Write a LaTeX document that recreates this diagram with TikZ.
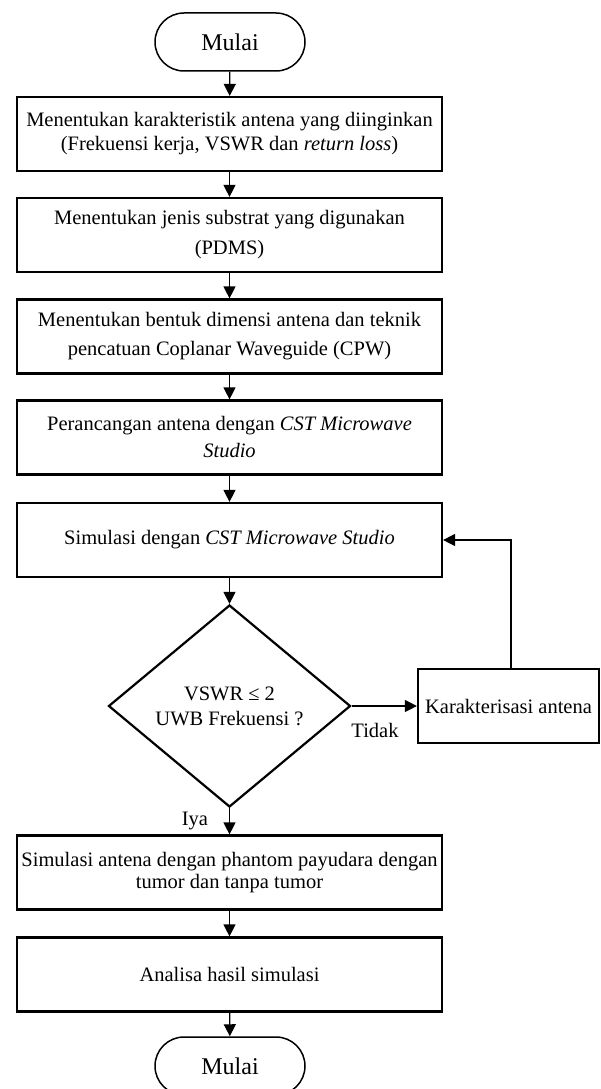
\documentclass[tikz,border=0pt]{standalone}
\usepackage{fontspec}
\setmainfont{Liberation Serif}
\usetikzlibrary{shapes.geometric,arrows.meta}
\begin{document}
\begin{tikzpicture}[x=1pt,y=-1pt,
  every node/.style={font=\fontsize{20.5}{24}\selectfont},
  terminal/.style={draw, line width=1.5pt, rounded corners=29pt, minimum width=150pt, minimum height=58pt, inner sep=0pt, font=\fontsize{24}{26}\selectfont},
  proc/.style={draw, line width=2.2pt, minimum width=425pt, minimum height=74pt, align=center, inner sep=0pt},
  decision/.style={draw, diamond, line width=2.2pt, minimum width=242pt, minimum height=202pt, inner sep=0pt, align=center, font=\fontsize{20.5}{25}\selectfont},
  arr/.style={line width=1.2pt, -{Triangle[length=12pt,width=12pt]}},
  lbl/.style={inner sep=0pt}]
\useasboundingbox (0,0) rectangle (601,1089);
\node[terminal] (start) at (230,42) {Mulai};
\node[proc] (b1) at (229.5,134) {Menentukan karakteristik antena yang diinginkan\\(Frekuensi kerja, VSWR dan \textit{return loss})};
\node[proc] (b2) at (229.5,235) {Menentukan jenis substrat yang digunakan\\[6pt](PDMS)};
\node[proc] (b3) at (229.5,336.5) {Menentukan bentuk dimensi antena dan teknik\\[5pt]pencatuan Coplanar Waveguide (CPW)};
\node[proc] (b4) at (229.5,437.5) {Perancangan antena dengan \textit{CST Microwave}\\[3pt]\textit{Studio}};
\node[proc] (sim) at (229.5,540) {Simulasi dengan \textit{CST Microwave Studio}};
\node[decision] (dec) at (229.5,706) {VSWR ≤ 2\\UWB Frekuensi ?};
\node[draw, line width=2.2pt, minimum width=181pt, minimum height=74pt, inner sep=0pt] (kar) at (508.5,706) {Karakterisasi antena};
\node[proc] (b6) at (229.5,872.5) {Simulasi antena dengan phantom payudara dengan\\[-2pt]tumor dan tanpa tumor};
\node[proc] (b7) at (229.5,974.5) {Analisa hasil simulasi};
\node[terminal] (stop) at (230,1066) {Mulai};
\coordinate (fb) at (511,0);
\draw[arr] (start) -- (b1);
\draw[arr] (b1) -- (b2);
\draw[arr] (b2) -- (b3);
\draw[arr] (b3) -- (b4);
\draw[arr] (b4) -- (sim);
\draw[arr] (sim) -- (dec);
\draw[arr] (dec.east) -- (kar.west);
\draw[arr] (kar.north -| fb) |- (sim.east);
\draw[arr] (dec.south) -- (b6);
\draw[arr] (b6) -- (b7);
\draw[arr] (b7) -- (stop);
\node[lbl] (tidak) at (375,730) {Tidak};
\node[lbl] (iya) at (195,821) {Iya};
\end{tikzpicture}
\end{document}
